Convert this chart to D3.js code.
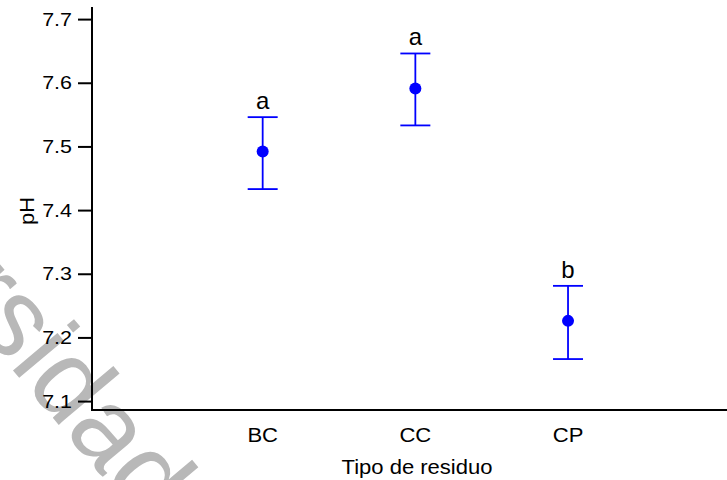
<!DOCTYPE html>
<html>
<head>
<meta charset="utf-8">
<script src="https://cdn.jsdelivr.net/npm/d3@7"></script>
<style>
  body { margin: 0; background: #fff; }
  text { font-family: "Liberation Sans", Arial, sans-serif; }
</style>
</head>
<body>
<div id="chart"></div>
<script>
// tipos de residuo, medias de pH y limites de error
var categories = ["BC", "CC", "CP"];
var means = [7.492, 7.591, 7.226];
var upper = [7.546, 7.646, 7.281];
var lower = [7.433, 7.533, 7.166];
var letters = ["a", "a", "b"];
var yTicks = [7.1, 7.2, 7.3, 7.4, 7.5, 7.6, 7.7];

(function () {
    var width = 727, height = 480;
    var stretch = 1.13; // el texto original sale algo ensanchado

    var svg = d3.select("#chart")
        .append("svg")
        .attr("width", width)
        .attr("height", height);

    // marca de agua
    svg.append("text")
        .attr("transform", "translate(142,524) rotate(50)")
        .attr("text-anchor", "end")
        .style("font-size", "110px")
        .style("fill", "#b8b8b8")
        .text("Universidad");

    var y = d3.scaleLinear()
        .domain([7.086, 7.719])
        .range([410, 7]);

    var x = d3.scaleLinear()
        .domain([0, 4])
        .range([110, 720.7]);

    function label(px, py, txt, size, anchor, rot) {
        return svg.append("text")
            .attr("transform", "translate(" + px + "," + py + ")" + (rot ? " rotate(" + rot + ")" : "") + " scale(" + stretch + ",1)")
            .attr("text-anchor", anchor || "middle")
            .style("font-size", size + "px")
            .style("fill", "#000")
            .text(txt);
    }

    // eje Y
    var yAxis = svg.append("g")
        .attr("transform", "translate(92,0)")
        .call(d3.axisLeft(y).tickValues(yTicks).tickFormat(d3.format(".1f")).tickSize(14).tickPadding(5));
    yAxis.select(".domain").remove();
    yAxis.selectAll(".tick line").attr("stroke", "#000").attr("stroke-width", 2);
    yAxis.selectAll(".tick text")
        .attr("x", -20 / stretch)
        .attr("transform", "scale(" + stretch + ",1)")
        .style("font-size", "19px")
        .style("font-family", "Liberation Sans, Arial, sans-serif")
        .attr("fill", "#000");

    svg.append("line")
        .attr("x1", 92).attr("x2", 92)
        .attr("y1", y.range()[1]).attr("y2", y.range()[0] + 1)
        .attr("stroke", "#000").attr("stroke-width", 2);

    // eje X
    svg.append("line")
        .attr("x1", 91).attr("x2", width)
        .attr("y1", 410).attr("y2", 410)
        .attr("stroke", "#000").attr("stroke-width", 2);

    categories.forEach(function (d, i) {
        label(x(i + 1), 441.5, d, 19.5);
    });

    label(417, 474, "Tipo de residuo", 19.5);
    label(34, 211, "pH", 19.5, "middle", -90);

    // barras de error
    var g = svg.selectAll(".grupo")
        .data(categories)
        .enter().append("g")
        .attr("class", "grupo");

    g.append("line")
        .attr("x1", function (d, i) { return x(i + 1); })
        .attr("x2", function (d, i) { return x(i + 1); })
        .attr("y1", function (d, i) { return y(upper[i]); })
        .attr("y2", function (d, i) { return y(lower[i]); })
        .attr("stroke", "#0000ff").attr("stroke-width", 1.8);

    g.append("line")
        .attr("x1", function (d, i) { return x(i + 1) - 15; })
        .attr("x2", function (d, i) { return x(i + 1) + 15; })
        .attr("y1", function (d, i) { return y(upper[i]); })
        .attr("y2", function (d, i) { return y(upper[i]); })
        .attr("stroke", "#0000ff").attr("stroke-width", 1.8);

    g.append("line")
        .attr("x1", function (d, i) { return x(i + 1) - 15; })
        .attr("x2", function (d, i) { return x(i + 1) + 15; })
        .attr("y1", function (d, i) { return y(lower[i]); })
        .attr("y2", function (d, i) { return y(lower[i]); })
        .attr("stroke", "#0000ff").attr("stroke-width", 1.8);

    g.append("circle")
        .attr("cx", function (d, i) { return x(i + 1); })
        .attr("cy", function (d, i) { return y(means[i]); })
        .attr("r", 6)
        .attr("fill", "#0000ff");

    g.append("text")
        .attr("x", function (d, i) { return x(i + 1); })
        .attr("y", function (d, i) { return y(upper[i]) - 8; })
        .attr("text-anchor", "middle")
        .style("font-size", "24px")
        .text(function (d, i) { return letters[i]; });
})()
</script>
</body>
</html>
